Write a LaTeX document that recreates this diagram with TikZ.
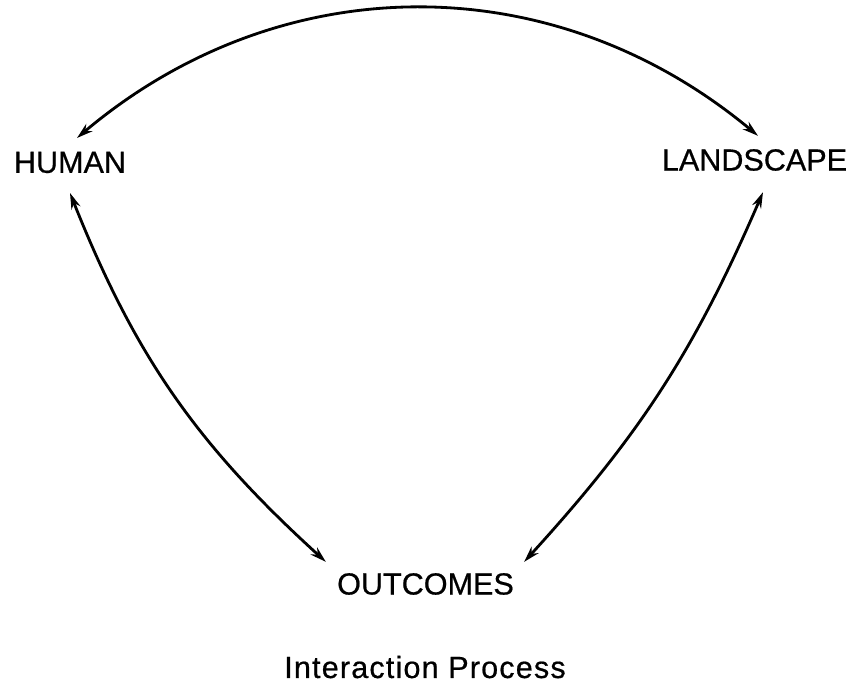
\documentclass[tikz,border=0pt]{standalone}
\usepackage{fontspec}
\setmainfont{Liberation Sans}
\usetikzlibrary{arrows.meta}
\begin{document}
\begin{tikzpicture}[
    word/.style={inner sep=0pt, font=\fontsize{17.4}{20}\selectfont\addfontfeature{FakeBold=0.6}},
    link/.style={{Stealth[length=3.2mm,width=1.9mm]}-{Stealth[length=3.2mm,width=1.9mm]}, line width=1.6pt}
  ]
    \useasboundingbox (0.00, 0.00) rectangle (17.08, 13.66);
    \node[word]             (human)     at ( 1.40, 10.41) {HUMAN};
    \node[word]             (landscape) at (15.09, 10.46) {LANDSCAPE};
    \node[word]             (outcomes)  at ( 8.51,  1.98) {OUTCOMES};
    \node[word,anchor=base] (title)     at ( 8.50,  0.10) {\addfontfeature{LetterSpace=3.8}Interaction Process};
    \draw[link] ([shift={(0.14,0.27)}]human.north)      to[bend left=40]  ([shift={(0.07,0.26)}]landscape.north);
    \draw[link] ([shift={(0.00,-0.39)}]human.south)     to[bend right=13] ([shift={(-0.22,0.22)}]outcomes.north west);
    \draw[link] ([shift={(0.17,-0.42)}]landscape.south) to[bend left=9.5] ([shift={(0.20,0.22)}]outcomes.north east);
  \end{tikzpicture}
\end{document}
